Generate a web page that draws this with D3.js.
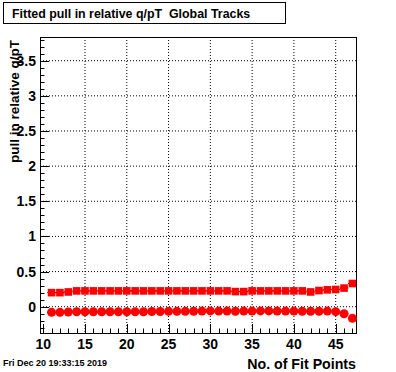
<!DOCTYPE html>
<html><head><meta charset="utf-8">
<script src="https://cdn.jsdelivr.net/npm/d3@7"></script>
<style>body{margin:0;background:#fff}text{font-family:"Liberation Sans",Arial,sans-serif;font-weight:bold}</style>
</head><body><svg id="c" width="396" height="372"></svg>
<script>
const fitPoints = [11,12,13,14,15,16,17,18,19,20,21,22,23,24,25,26,27,28,29,30,31,32,33,34,35,36,37,38,39,40,41,42,43,44,45,46,47];
const squareVals = [0.20,0.20,0.21,0.225,0.225,0.225,0.225,0.225,0.225,0.225,0.225,0.225,0.225,0.225,0.225,0.225,0.225,0.225,0.225,0.225,0.225,0.225,0.215,0.215,0.225,0.225,0.225,0.225,0.225,0.225,0.225,0.21,0.23,0.24,0.245,0.265,0.33];
const squareErr = [0.012,0.012,0.015,0.01,0.01,0.01,0.01,0.01,0.01,0.01,0.01,0.01,0.01,0.01,0.01,0.01,0.01,0.01,0.01,0.01,0.01,0.01,0.012,0.012,0.01,0.01,0.01,0.01,0.01,0.01,0.01,0.012,0.012,0.012,0.015,0.018,0.025];
const circleVals = [-0.08,-0.08,-0.075,-0.072,-0.072,-0.072,-0.072,-0.072,-0.072,-0.072,-0.072,-0.072,-0.068,-0.068,-0.066,-0.066,-0.066,-0.064,-0.062,-0.06,-0.062,-0.062,-0.064,-0.062,-0.062,-0.06,-0.06,-0.062,-0.062,-0.062,-0.064,-0.064,-0.064,-0.062,-0.07,-0.10,-0.165];
const circleErr = [0.01,0.01,0.01,0.008,0.008,0.008,0.008,0.008,0.008,0.008,0.008,0.008,0.008,0.008,0.008,0.008,0.008,0.008,0.008,0.008,0.008,0.008,0.008,0.008,0.008,0.008,0.008,0.008,0.008,0.008,0.008,0.008,0.008,0.01,0.01,0.012,0.015];
const xTicks = [10,15,20,25,30,35,40,45];
const yTicks = [0,0.5,1,1.5,2,2.5,3,3.5];
const yTickLabels = ["0","0.5","1","1.5","2","2.5","3","3.5"];
const titleText = "Fitted pull in relative q/pT  Global Tracks";
const xTitle = "No. of Fit Points";
const yTitle = "pull in relative q/pT";
const dateText = "Fri Dec 20 19:33:15 2019";

const L=40,R=356,T=37,B=333;
const svg=d3.select("#c");
const x=d3.scaleLinear().domain([9.615,47.43]).range([L,R]);
const y=d3.scaleLinear().domain([-0.374,3.837]).range([B,T]);

// grid
const g=svg.append("g");
g.selectAll("line.gx").data(xTicks.filter(v=>v>10)).enter().append("line")
 .attr("x1",d=>x(d)).attr("x2",d=>x(d)).attr("y1",T).attr("y2",B)
 .attr("stroke","#000").attr("stroke-dasharray","1,2");
g.selectAll("line.gy").data(yTicks).enter().append("line")
 .attr("y1",d=>y(d)).attr("y2",d=>y(d)).attr("x1",L).attr("x2",R)
 .attr("stroke","#000").attr("stroke-dasharray","1,2");

// minor ticks
const yMinor=d3.range(-3,39).map(i=>i/10).filter(v=>y(v)<=B&&y(v)>=T);
g.selectAll("line.ym").data(yMinor).enter().append("line")
 .attr("x1",L).attr("x2",d=>L+(Math.abs(d*2-Math.round(d*2))<1e-6?9:4.5))
 .attr("y1",d=>Math.round(y(d))+0.5).attr("y2",d=>Math.round(y(d))+0.5).attr("stroke","#000");
const xMinor=d3.range(10,48);
g.selectAll("line.xm").data(xMinor).enter().append("line")
 .attr("y1",B).attr("y2",d=>B-(d%5===0?9:4.5))
 .attr("x1",d=>Math.round(x(d))+0.5).attr("x2",d=>Math.round(x(d))+0.5).attr("stroke","#000");

// frame
svg.append("rect").attr("x",L+0.5).attr("y",T+0.5).attr("width",R-L).attr("height",B-T)
 .attr("fill","none").attr("stroke","#000");

// tick labels
svg.selectAll("text.xl").data(xTicks).enter().append("text")
 .attr("x",d=>x(d)).attr("y",349).attr("text-anchor","middle").attr("font-size",14).text(d=>d);
svg.selectAll("text.yl").data(yTicks).enter().append("text")
 .attr("x",36).attr("y",d=>y(d)+5).attr("text-anchor","end").attr("font-size",14).text((d,i)=>yTickLabels[i]);

// data
function drawSeries(vals,errs,shape){
 const s=svg.append("g");
 const data=fitPoints.map((p,i)=>({p,v:vals[i],e:errs[i]}));
 s.selectAll("line.h").data(data).enter().append("line")
  .attr("x1",d=>x(d.p-0.5)).attr("x2",d=>x(d.p+0.5)).attr("y1",d=>y(d.v)).attr("y2",d=>y(d.v))
  .attr("stroke","#000").attr("stroke-width",1.2);
 s.selectAll("line.v").data(data).enter().append("line")
  .attr("x1",d=>x(d.p)).attr("x2",d=>x(d.p)).attr("y1",d=>y(d.v-d.e)).attr("y2",d=>y(d.v+d.e))
  .attr("stroke","#000").attr("stroke-width",1.2);
 if(shape==="sq"){
  s.selectAll("rect").data(data).enter().append("rect")
   .attr("x",d=>x(d.p)-3.8).attr("y",d=>y(d.v)-3.8).attr("width",7.6).attr("height",7.6).attr("fill","#ff0000");
 } else {
  s.selectAll("circle").data(data).enter().append("circle")
   .attr("cx",d=>x(d.p)).attr("cy",d=>y(d.v)).attr("r",4.5).attr("fill","#ff0000");
 }
}
drawSeries(squareVals,squareErr,"sq");
drawSeries(circleVals,circleErr,"ci");

// title box
svg.append("rect").attr("x",3.5).attr("y",2.5).attr("width",282).attr("height",21).attr("fill","#fff").attr("stroke","#000");
svg.append("text").attr("x",12).attr("y",17.5).attr("font-size",12.4).style("white-space","pre").text(titleText);

// axis titles
svg.append("text").attr("x",356).attr("y",369).attr("text-anchor","end").attr("font-size",14.2).text(xTitle);
svg.append("text").attr("transform","translate(19,40) rotate(-90)").attr("text-anchor","end").attr("font-size",13.5).text(yTitle);
svg.append("text").attr("x",3).attr("y",366).attr("font-size",9).text(dateText);
</script></body></html>
